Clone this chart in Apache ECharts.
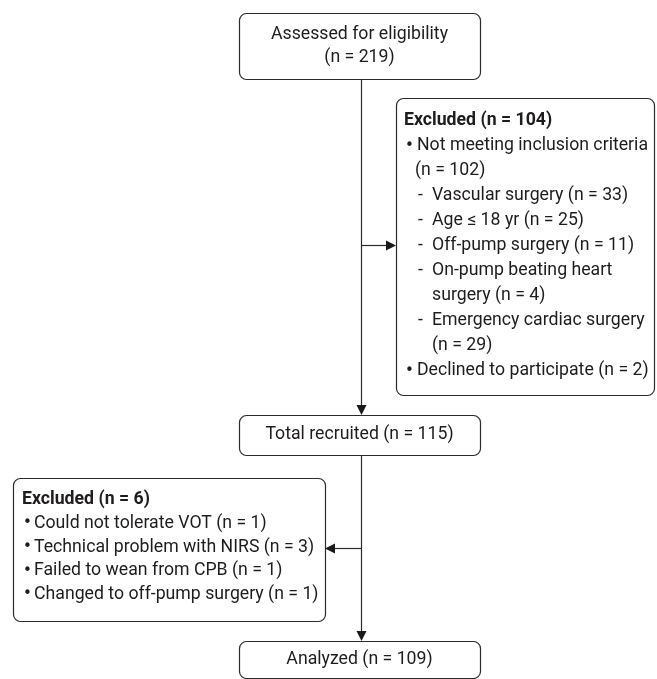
<!DOCTYPE html>
<html>
<head>
<meta charset="utf-8">
<script src="https://cdn.jsdelivr.net/npm/echarts@6/dist/echarts.min.js"></script>
<style>
  html, body { margin: 0; padding: 0; background: #ffffff; }
  #chart { width: 657px; height: 679px; }
</style>
</head>
<body>
<div id="chart"></div>
<script>
// ---------------- data ----------------
const stageLabels = ['Assessed for eligibility', 'Total recruited', 'Analyzed'];
const stageCounts = [219, 115, 109];

const excludedTitle = 'Excluded';
const excludedTotals = [104, 6];

const preReasons = ['Not meeting inclusion criteria', 'Declined to participate'];
const preCounts = [102, 2];

const inclusionCriteria = ['Vascular surgery', 'Age \u2264 18 yr', 'Off-pump surgery', 'On-pump beating heart surgery', 'Emergency cardiac surgery'];
const inclusionCounts = [33, 25, 11, 4, 29];

const postReasons = ['Could not tolerate VOT', 'Technical problem with NIRS', 'Failed to wean from CPB', 'Changed to off-pump surgery'];
const postCounts = [1, 3, 1, 1];

// ---------------- layout (axis units = pixels of a 657 x 679 canvas) ----------------
const W = 657, H = 679;
const FONT_FAMILY = 'Roboto, "Noto Sans", sans-serif';
const BULLET_FONT = '"DejaVu Sans", sans-serif';
const FONT_SIZE = 17.7;
const TEXT_COLOR = '#1f1c1d';
const LINE_COLOR = '#2b2b2b';

const boxes = [
  { x: 239, y: 13, w: 241, h: 66 },   // assessed
  { x: 396, y: 98, w: 258, h: 297 },  // excluded 1
  { x: 239, y: 415, w: 241, h: 40 },  // recruited
  { x: 13, y: 478, w: 312, h: 143 },  // excluded 2
  { x: 239, y: 641, w: 241, h: 37 }   // analyzed
];
const flowX = 361;
const connectors = [
  [flowX, 79, flowX, 415],
  [flowX, 245, 396, 245],
  [flowX, 455, flowX, 641],
  [flowX, 548, 325, 548]
];

// wrap rules: number of tokens on the first line (count chunk is one token)
const preWrap = [4, 0];
const inclusionWrap = [0, 0, 0, 3, 3];

function nText(n) { return '(n = ' + n + ')'; }
function splitItem(label, n, k) {
  const tokens = label.split(' ').concat([nText(n)]);
  if (!k || k >= tokens.length) return [tokens.join(' ')];
  return [tokens.slice(0, k).join(' '), tokens.slice(k).join(' ')];
}

// build text lines
const textLines = [];
function cx(b) { return b.x + b.w / 2; }
// box A
textLines.push({ t: stageLabels[0], x: cx(boxes[0]), y: 35, align: 'center' });
textLines.push({ t: nText(stageCounts[0]), x: cx(boxes[0]), y: 58, align: 'center' });
// box C
textLines.push({ t: stageLabels[1] + ' ' + nText(stageCounts[1]), x: cx(boxes[2]), y: 435, align: 'center' });
// box E
textLines.push({ t: stageLabels[2] + ' ' + nText(stageCounts[2]), x: cx(boxes[4]), y: 659.5, align: 'center' });

// box B
(function () {
  const x0 = 404, bulletX = 405, bulletText = 417, dashX = 418, dashText = 432;
  let y = 121; const step = 25;
  textLines.push({ t: excludedTitle + ' ' + nText(excludedTotals[0]), x: x0, y: y, align: 'left', bold: true });
  y += step;
  preReasons.forEach(function (r, i) {
    const parts = splitItem(r, preCounts[i], preWrap[i]);
    textLines.push({ t: '\u2022', x: bulletX, y: y, align: 'left', bullet: true });
    textLines.push({ t: parts[0], x: bulletText, y: y, align: 'left' });
    y += step;
    if (parts[1]) { textLines.push({ t: parts[1], x: bulletText - 2, y: y, align: 'left' }); y += step; }
    if (i === 0) {
      inclusionCriteria.forEach(function (c, j) {
        const p = splitItem(c, inclusionCounts[j], inclusionWrap[j]);
        textLines.push({ t: '-', x: dashX, y: y, align: 'left' });
        textLines.push({ t: p[0], x: dashText, y: y, align: 'left' });
        y += step;
        if (p[1]) { textLines.push({ t: p[1], x: dashText, y: y, align: 'left' }); y += step; }
      });
    }
  });
})();

// box D
(function () {
  const x0 = 22, bulletX = 23, bulletText = 34;
  let y = 500; const step = 23.6;
  textLines.push({ t: excludedTitle + ' ' + nText(excludedTotals[1]), x: x0, y: y, align: 'left', bold: true });
  y += step;
  postReasons.forEach(function (r, i) {
    textLines.push({ t: '\u2022', x: bulletX, y: y, align: 'left', bullet: true });
    textLines.push({ t: r + ' ' + nText(postCounts[i]), x: bulletText, y: y, align: 'left' });
    y += step;
  });
})();

// ---------------- chart ----------------
const chart = echarts.init(document.getElementById('chart'), null, { renderer: 'canvas' });

function crisp(v) { return Math.round(v) + 0.5; }

const option = {
  animation: false,
  backgroundColor: '#ffffff',
  grid: { left: 0, right: 0, top: 0, bottom: 0 },
  xAxis: { type: 'value', min: 0, max: W, show: false },
  yAxis: { type: 'value', min: 0, max: H, inverse: true, show: false },
  series: [
    {
      type: 'custom',
      name: 'boxes',
      silent: true,
      data: boxes.map(function (b) { return [b.x, b.y, b.x + b.w, b.y + b.h]; }),
      renderItem: function (params, api) {
        const p1 = api.coord([api.value(0), api.value(1)]);
        const p2 = api.coord([api.value(2), api.value(3)]);
        return {
          type: 'rect',
          shape: { x: crisp(p1[0]), y: crisp(p1[1]), width: Math.round(p2[0] - p1[0]), height: Math.round(p2[1] - p1[1]), r: 7 },
          style: { fill: '#ffffff', stroke: LINE_COLOR, lineWidth: 1.2 }
        };
      }
    },
    {
      type: 'custom',
      name: 'connectors',
      silent: true,
      data: connectors,
      renderItem: function (params, api) {
        const a = api.coord([api.value(0), api.value(1)]);
        const b = api.coord([api.value(2), api.value(3)]);
        const dx = b[0] - a[0], dy = b[1] - a[1];
        const len = Math.sqrt(dx * dx + dy * dy);
        const ux = dx / len, uy = dy / len;
        const headL = 10, headW = 5;
        const horizontal = Math.abs(ux) > Math.abs(uy);
        const ax = horizontal ? a[0] : crisp(a[0]);
        const ay = horizontal ? crisp(a[1]) : a[1];
        const tipX = horizontal ? b[0] : ax;
        const tipY = horizontal ? ay : b[1];
        const baseX = tipX - ux * headL, baseY = tipY - uy * headL;
        return {
          type: 'group',
          children: [
            {
              type: 'line',
              shape: { x1: ax, y1: ay, x2: baseX, y2: baseY },
              style: { stroke: LINE_COLOR, lineWidth: 1.2 }
            },
            {
              type: 'polygon',
              shape: {
                points: [
                  [tipX, tipY],
                  [baseX - uy * headW, baseY + ux * headW],
                  [baseX + uy * headW, baseY - ux * headW]
                ]
              },
              style: { fill: '#1a1a1a' }
            }
          ]
        };
      }
    },
    {
      type: 'custom',
      name: 'texts',
      silent: true,
      data: textLines.map(function (l) { return [l.x, l.y]; }),
      renderItem: function (params, api) {
        const l = textLines[params.dataIndex];
        const p = api.coord([api.value(0), api.value(1)]);
        const font = l.bullet
          ? '15px ' + BULLET_FONT
          : (l.bold ? 'bold ' : '') + FONT_SIZE + 'px ' + FONT_FAMILY;
        return {
          type: 'text',
          x: p[0],
          y: p[1],
          style: {
            text: l.t,
            fill: TEXT_COLOR,
            font: font,
            textAlign: l.align,
            align: l.align,
            textVerticalAlign: 'middle',
            verticalAlign: 'middle'
          }
        };
      }
    }
  ]
};
chart.setOption(option);
</script>
</body>
</html>
